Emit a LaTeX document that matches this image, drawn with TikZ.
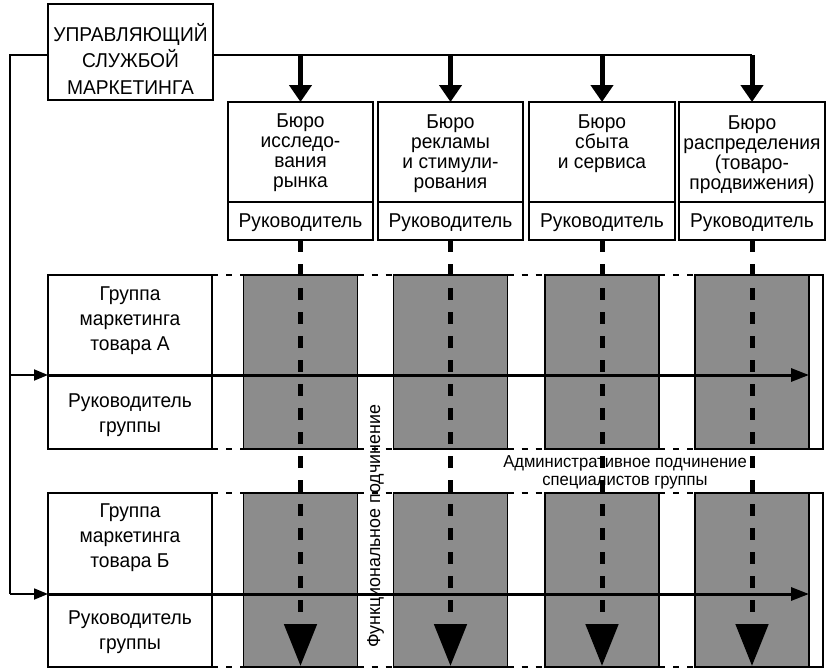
\documentclass[tikz,border=0pt]{standalone}
\usepackage{fontspec}
\setmainfont{Liberation Sans}[FakeStretch=0.96]
\usetikzlibrary{arrows.meta}
\begin{document}
\begin{tikzpicture}[x=1pt,y=-1pt,
  box/.style={draw, line width=1.6pt, inner sep=0pt, outer sep=0pt},
  shadebox/.style={box, fill=black!45},
  txt/.style={align=center, inner sep=0pt, font=\fontsize{20}{20}\selectfont},
  gtxt/.style={align=center, inner sep=0pt, font=\fontsize{20}{25}\selectfont},
  mtxt/.style={align=center, inner sep=0pt, font=\fontsize{20}{26.5}\selectfont},
  lab/.style={align=center, inner sep=0pt, font=\fontsize{17.3}{17.5}\selectfont},
  flabel/.style={inner sep=0pt, font=\fontsize{18.6}{18.6}\selectfont},
  gapline/.style={line width=2.2pt, dash pattern=on 6pt off 8pt},
  bus/.style={line width=2.8pt},
  thinbus/.style={line width=1.8pt},
  down/.style={line width=5pt, -{Triangle[length=17pt,width=22pt]}},
  func/.style={line width=5pt, dash pattern=on 12pt off 12pt, -{Triangle[length=42pt,width=32pt]}},
  adm/.style={line width=3pt, -{Triangle[length=18pt,width=13pt]}},
  feed/.style={line width=1.8pt, -{Triangle[length=14pt,width=11pt]}}
]
\useasboundingbox (0,0) rectangle (827,669);

% manager
\node[box, minimum width=165pt, minimum height=96pt] (mgr) at (130.5,52) {};
\node[mtxt, anchor=base] (mgrt) at (130.5,94) {УПРАВЛЯЮЩИЙ\\СЛУЖБОЙ\\МАРКЕТИНГА};

% bureaus
\node[box, minimum width=145pt, minimum height=100pt] (b1) at (300.5,152) {};
\node[box, minimum width=145pt, minimum height=100pt] (b2) at (450.5,152) {};
\node[box, minimum width=146pt, minimum height=100pt] (b3) at (602,152) {};
\node[box, minimum width=146pt, minimum height=100pt] (b4) at (752,152) {};
\node[box, minimum width=145pt, minimum height=38pt] (r1) at (300.5,221) {};
\node[box, minimum width=145pt, minimum height=38pt] (r2) at (450.5,221) {};
\node[box, minimum width=146pt, minimum height=38pt] (r3) at (602,221) {};
\node[box, minimum width=146pt, minimum height=38pt] (r4) at (752,221) {};
\node[txt, anchor=base] (b1t) at (300.5,187) {Бюро\\исследо-\\вания\\рынка};
\node[txt, anchor=base] (b2t) at (450.5,188) {Бюро\\рекламы\\и стимули-\\рования};
\node[txt, anchor=base] (b3t) at (602,168) {Бюро\\сбыта\\и сервиса};
\node[txt, anchor=base] (b4t) at (752,189) {Бюро\\распределения\\(товаро-\\продвижения)};
\node[txt, anchor=base] (r1t) at (300.5,227) {Руководитель};
\node[txt, anchor=base] (r2t) at (450.5,227) {Руководитель};
\node[txt, anchor=base] (r3t) at (602,227) {Руководитель};
\node[txt, anchor=base] (r4t) at (752,227) {Руководитель};

% group A
\node[box, minimum width=164pt, minimum height=100pt] (gAt) at (130,325) {};
\node[box, minimum width=164pt, minimum height=74pt] (gAb) at (130,412) {};
\node[gtxt, anchor=base] (gAtt) at (130,350) {Группа\\маркетинга\\товара А};
\node[gtxt, anchor=base] (gAbt) at (130,432) {Руководитель\\группы};
\node[shadebox, minimum width=114pt, minimum height=174pt] (cA1) at (300.5,362) {};
\node[shadebox, minimum width=114pt, minimum height=174pt] (cA2) at (450.5,362) {};
\node[shadebox, minimum width=114pt, minimum height=174pt] (cA3) at (602,362) {};
\node[shadebox, minimum width=114pt, minimum height=174pt] (cA4) at (752,362) {};
\node[box, minimum width=14pt, minimum height=174pt] (wA) at (816,362) {};

% group B
\node[box, minimum width=164pt, minimum height=101pt] (gBt) at (130,543.5) {};
\node[box, minimum width=164pt, minimum height=73pt] (gBb) at (130,630.5) {};
\node[gtxt, anchor=base] (gBtt) at (130,567) {Группа\\маркетинга\\товара Б};
\node[gtxt, anchor=base] (gBbt) at (130,649) {Руководитель\\группы};
\node[shadebox, minimum width=114pt, minimum height=174pt] (cB1) at (300.5,580) {};
\node[shadebox, minimum width=114pt, minimum height=174pt] (cB2) at (450.5,580) {};
\node[shadebox, minimum width=114pt, minimum height=174pt] (cB3) at (602,580) {};
\node[shadebox, minimum width=114pt, minimum height=174pt] (cB4) at (752,580) {};
\node[box, minimum width=14pt, minimum height=174pt] (wB) at (816,580) {};

% dotted gaps
\foreach \r in {A,B}{
  \draw[gapline] (g\r t.north east) -- (c\r1.north west);
  \draw[gapline] (c\r1.north east) -- (c\r2.north west);
  \draw[gapline] (c\r2.north east) -- (c\r3.north west);
  \draw[gapline] (c\r3.north east) -- (c\r4.north west);
  \draw[gapline] (g\r b.south east) -- (c\r1.south west);
  \draw[gapline] (c\r1.south east) -- (c\r2.south west);
  \draw[gapline] (c\r2.south east) -- (c\r3.south west);
  \draw[gapline] (c\r3.south east) -- (c\r4.south west);
}

% top bus and arrows to bureaus
\coordinate (busR) at (752,55);
\draw[bus] ([yshift=-3pt]mgr.east) -- (busR);
\draw[down] (b1.north |- busR) -- (b1.north);
\draw[down] (b2.north |- busR) -- (b2.north);
\draw[down] (b3.north |- busR) -- (b3.north);
\draw[down] (busR) -- (b4.north);

% left bus to groups
\coordinate (lA) at (10,375);
\coordinate (lB) at (10,594);
\draw[thinbus] ([yshift=-3pt]mgr.west) -| (lB);
\draw[feed] (lA) -- (gAb.north west);
\draw[feed] (lB) -- (gBb.north west);

% administrative lines
\draw[adm] (gAb.north west) -- (wA.west |- gAb.north west);
\draw[adm] (gBb.north west) -- (wB.west |- gBb.north west);

% functional dashed arrows
\coordinate (e1) at (300.5,666);
\coordinate (e2) at (450.5,666);
\coordinate (e3) at (602,666);
\coordinate (e4) at (752,666);
\draw[func] (r1.south) -- (e1);
\draw[func] (r2.south) -- (e2);
\draw[func] (r3.south) -- (e3);
\draw[func] (r4.south) -- (e4);

% labels
\node[flabel, rotate=90] (flab) at (375.5,526.5) {Функциональное подчинение};
\node[lab, anchor=base] (alab) at (625,485) {Административное подчинение\\специалистов группы};
\end{tikzpicture}
\end{document}
